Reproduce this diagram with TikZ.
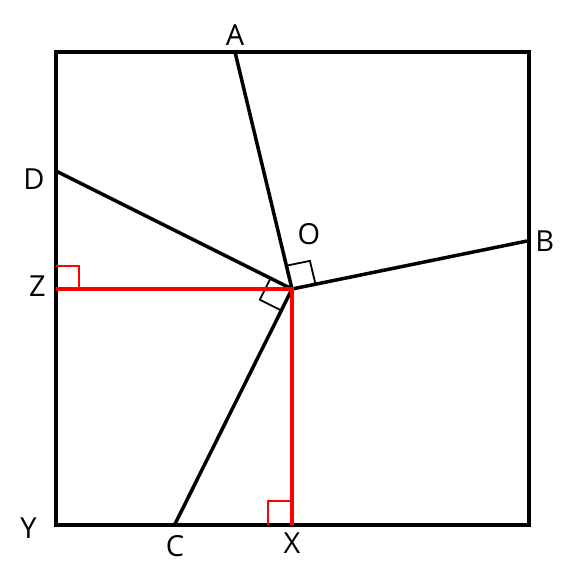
\documentclass[tikz,border=0pt]{standalone}
\usepackage{fontspec}
\setmainfont{Open Sans}
\usetikzlibrary{calc}

\tikzset{
	lbl/.style={font=\fontsize{14.5}{17}\selectfont, inner sep=0pt},
	pt/.style={coordinate},
	edge/.style={line width=1.75pt},
	redline/.style={line width=1.8pt, red},
	rmark/.style={line width=0.9pt},
}

\begin{document}
\begin{tikzpicture}[x=0.5pt, y=-0.5pt]
		\useasboundingbox (0,0) rectangle (577,575);

		\node[pt] (S1) at ( 56,  52) {};
		\node[pt] (S2) at (529,  52) {};
		\node[pt] (S3) at (529, 525) {};
		\node[pt, label={[lbl, label distance=9.5pt, yshift=-1.5pt]left:Y}] (Y) at ( 56, 525) {};

		\node[pt, label={[lbl, label distance=22pt, xshift=8.5pt]above:O}] (O) at (292, 289) {};
		\node[pt, label={[lbl, label distance=3pt]above:A}] (A) at (235,  52) {};
		\node[pt, label={[lbl, label distance=4pt]right:B}] (B) at (527, 241) {};
		\node[pt, label={[lbl, label distance=5.5pt]below:C}] (C) at (175, 524) {};
		\node[pt, label={[lbl, label distance=5.5pt, yshift=-4pt]left:D}] (D) at ( 56, 171) {};

		\node[pt, label={[lbl, label distance=5pt, yshift=1.5pt]left:Z}] (Z) at ( 56, 289) {};
		\node[pt, label={[lbl, label distance=3.5pt]below:X}] (X) at (292, 525) {};

		% square
		\draw[edge] (S1) -- (S2) -- (S3) -- (Y) -- cycle;

		% spokes from O
		\draw[edge] (O) to (A);
		\draw[edge] (O) to (B);
		\draw[edge] (O) to (C);
		\draw[edge] (O) to (D);

		% right angles at O
		\draw[rmark] ($(O)!12pt!(A)$) -- ($(O)!12pt!(A) + (O)!12pt!(B) - (O)$) -- ($(O)!12pt!(B)$);
		\draw[rmark] ($(O)!12pt!(D)$) -- ($(O)!12pt!(D) + (O)!12pt!(C) - (O)$) -- ($(O)!12pt!(C)$);

		% perpendiculars
		\draw[redline] (Z) -- (O) -- (X);
		\draw[rmark, red] ($(Z)!11.5pt!(O)$) -- ($(Z)!11.5pt!(O) + (Z)!11.5pt!(D) - (Z)$) -- ($(Z)!11.5pt!(D)$);
		\draw[rmark, red] ($(X)!12pt!(O)$) -- ($(X)!12pt!(O) + (X)!12pt!(Y) - (X)$) -- ($(X)!12pt!(Y)$);

\end{tikzpicture}
\end{document}
